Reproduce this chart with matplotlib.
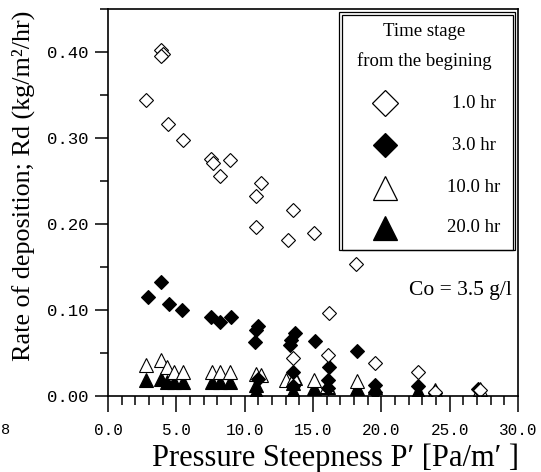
import matplotlib
matplotlib.use("Agg")
import matplotlib.pyplot as plt
from matplotlib.patches import Rectangle
from matplotlib.ticker import MultipleLocator, FormatStrFormatter

# ---- data ----
x_1hr = [3.9, 4.0, 3.85, 2.8, 4.4, 5.5, 7.55, 7.7, 8.9, 8.2, 11.2, 10.8, 13.5, 10.8,
         13.2, 15.1, 18.15, 16.2, 13.5, 16.1, 19.5, 22.7, 23.9, 27.2]
y_1hr = [0.402, 0.398, 0.395, 0.344, 0.316, 0.298, 0.276, 0.271, 0.274, 0.256, 0.248,
         0.233, 0.216, 0.196, 0.181, 0.190, 0.153, 0.096, 0.044, 0.048, 0.038, 0.028,
         0.005, 0.007]

x_3hr = [2.95, 3.9, 4.45, 5.45, 7.5, 8.2, 9.0, 11.0, 10.85, 10.75, 13.7, 13.4, 13.3,
         15.15, 16.2, 16.1, 16.1, 18.2, 19.5, 19.5, 22.7, 27.1, 13.5, 11.0, 23.9, 13.5]
y_3hr = [0.115, 0.132, 0.107, 0.100, 0.092, 0.086, 0.092, 0.081, 0.077, 0.063, 0.073,
         0.065, 0.059, 0.064, 0.034, 0.019, 0.009, 0.052, 0.013, 0.005, 0.012, 0.008,
         0.028, 0.020, 0.003, 0.012]

x_10hr = [2.8, 3.9, 4.3, 4.8, 5.5, 7.6, 8.2, 8.9, 10.85, 11.2, 13.0, 13.6, 15.1, 18.2,
          23.9, 27.2, 16.0]
y_10hr = [0.036, 0.042, 0.034, 0.028, 0.028, 0.028, 0.028, 0.028, 0.026, 0.024, 0.019,
          0.022, 0.019, 0.017, 0.007, 0.008, 0.012]

x_20hr = [2.75, 3.9, 4.3, 4.8, 5.5, 7.6, 8.2, 8.9, 10.85, 10.85, 13.5, 13.5, 15.1, 16.1,
          18.2, 19.5, 22.7, 23.9, 27.2, 13.7]
y_20hr = [0.019, 0.020, 0.016, 0.016, 0.016, 0.016, 0.016, 0.016, 0.013, 0.006, 0.015,
          0.006, 0.009, 0.011, 0.009, 0.010, 0.006, 0.003, 0.003, 0.021]

legend_labels = ["1.0 hr", "3.0 hr", "10.0 hr", "20.0 hr"]
legend_title = ["Time stage", "from the begining"]

# ---- figure ----
W, H = 541, 472
fig = plt.figure(figsize=(W / 100, H / 100), dpi=100)
L, R, B, T = 108, 518, 396, 9
ax = fig.add_axes([L / W, 1 - B / H, (R - L) / W, (B - T) / H])

serif = "Liberation Serif"
mono = "Liberation Mono"

msD = 7.6
msT = 9.5
ax.plot(x_20hr, y_20hr, ls="none", marker="^", ms=msT, mfc="black", mec="black", mew=0.8)
ax.plot(x_10hr, y_10hr, ls="none", marker="^", ms=msT, mfc="white", mec="black", mew=0.8)
ax.plot(x_3hr, y_3hr, ls="none", marker="D", ms=msD, mfc="black", mec="black", mew=0.8)
ax.plot(x_1hr, y_1hr, ls="none", marker="D", ms=msD, mfc="white", mec="black", mew=0.8)

ax.set_xlim(0, 30)
ax.set_ylim(0, 0.45)
ax.xaxis.set_major_locator(MultipleLocator(5))
ax.xaxis.set_minor_locator(MultipleLocator(1))
ax.yaxis.set_major_locator(MultipleLocator(0.1))
ax.yaxis.set_minor_locator(MultipleLocator(0.05))
ax.xaxis.set_major_formatter(FormatStrFormatter("%.1f"))
ax.yaxis.set_major_formatter(FormatStrFormatter("%.2f"))

for s in ax.spines.values():
    s.set_linewidth(1.2)

ax.tick_params(axis="x", which="major", direction="out", length=11.5, width=1.1, pad=8)
ax.tick_params(axis="x", which="minor", direction="out", length=6.5, width=1.1)
ax.tick_params(axis="y", which="major", direction="out", length=9.4, width=1.1, pad=5)
ax.tick_params(axis="y", which="minor", direction="out", length=5.8, width=1.1)
for lab in ax.get_xticklabels():
    lab.set_fontfamily(mono)
    lab.set_fontsize(11.5)
for lab in ax.get_yticklabels():
    lab.set_fontfamily(mono)
    lab.set_fontsize(12.5)

# axis titles placed to match the reference
fig.text(336 / W, 1 - 458 / H, "Pressure Steepness P\u2032 [Pa/m\u2032 ]", ha="center",
         va="center", fontfamily=serif, fontsize=22)
fig.text(23 / W, 1 - 186 / H, "Rate of deposition; Rd (kg/m\u00b2/hr)", ha="center",
         va="center", rotation=90, fontfamily=serif, fontsize=18.8)

# ---- legend box drawn in pixel-mapped axes coordinates ----
def px2ax(px, py):
    return (px - L) / (R - L), (B - py) / (B - T)

x0, y0 = px2ax(339, 250)
x1, y1 = px2ax(515, 12)
ax.add_patch(Rectangle((x0, y0), x1 - x0, y1 - y0, transform=ax.transAxes,
                       fill=True, fc="white", ec="black", lw=0.9, zorder=5))
xi0, yi0 = px2ax(341.5, 250)
xi1, yi1 = px2ax(512.5, 14.5)
ax.add_patch(Rectangle((xi0, yi0), xi1 - xi0, yi1 - yi0, transform=ax.transAxes,
                       fill=False, ec="black", lw=0.9, zorder=6))

tx, ty = px2ax(424, 32)
ax.text(tx, ty, legend_title[0], transform=ax.transAxes, ha="center", va="center",
        fontfamily=serif, fontsize=13.5, zorder=7)
tx, ty = px2ax(424, 61)
ax.text(tx, ty, legend_title[1], transform=ax.transAxes, ha="center", va="center",
        fontfamily=serif, fontsize=13.5, zorder=7)

entry_y = [103, 145, 188, 228]
styles = [("D", "white", 13.0), ("D", "black", 12.0),
          ("^", "white", 17.0), ("^", "black", 17.5)]
for lab, py, (mk, fc, ms) in zip(legend_labels, entry_y, styles):
    mx, my = px2ax(385, py)
    ax.plot([mx], [my], transform=ax.transAxes, marker=mk, ms=ms, mfc=fc, mec="black",
            mew=0.9, ls="none", zorder=7, clip_on=False)
    lx, ly = px2ax(474, py)
    ax.text(lx, ly, lab, transform=ax.transAxes, ha="center", va="center",
            fontfamily=serif, fontsize=13.5, zorder=7)

cx, cy = px2ax(512, 290)
ax.text(cx, cy, "Co = 3.5 g/l", transform=ax.transAxes, ha="right", va="center",
        fontfamily=serif, fontsize=15.5)

fig.text(0.5 / W, 1 - 430 / H, "8", ha="left", va="center", fontfamily=mono, fontsize=11)

fig.savefig("out.png", dpi=100)
